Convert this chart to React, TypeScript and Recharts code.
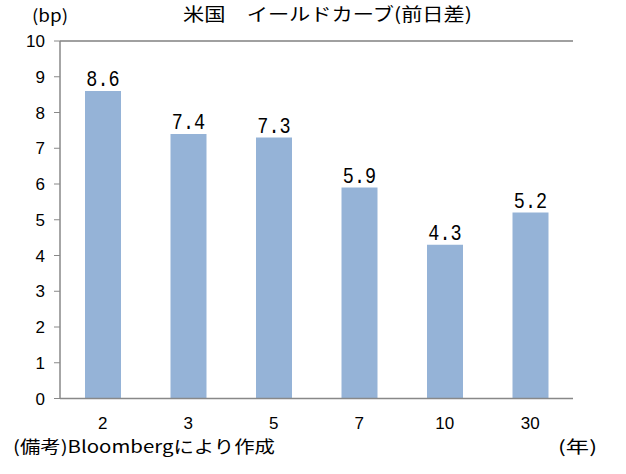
import React from "react";
import { BarChart, Bar, XAxis, YAxis, LabelList, ReferenceLine } from "recharts";

const categories = ["2", "3", "5", "7", "10", "30"];
const values = [8.6, 7.4, 7.3, 5.9, 4.3, 5.2];
const yTicks = [0, 1, 2, 3, 4, 5, 6, 7, 8, 9, 10];
const titleText = "米国　イールドカーブ(前日差)";
const unitText = "(bp)";
const noteText = "(備考)Bloombergにより作成";
const xUnitText = "(年)";

const data = categories.map((c, i) => ({ name: c, value: values[i] }));

const cjk = "'Noto Sans CJK JP', 'Noto Sans', sans-serif";

const BarLabel = (props: any) => {
  const { x, y, width, value } = props;
  const cx = Number(x) + Number(width) / 2;
  const by = Number(y) - 5;
  return (
    <text
      transform={`translate(${cx},${by}) scale(1,1.15)`}
      textAnchor="middle"
      fontSize={18.5}
      fontFamily="'Liberation Mono', monospace"
      fill="#000"
    >
      {Number(value).toFixed(1)}
    </text>
  );
};

export default function App() {
  return (
    <div style={{ position: "absolute", left: 0, top: 0, width: 626, height: 474, background: "#fff" }}>
      <BarChart
        width={626}
        height={474}
        data={data}
        margin={{ top: 41, right: 53, bottom: 45.5, left: 10 }}
        barSize={36}
      >
        <XAxis
          dataKey="name"
          axisLine={{ stroke: "#888888", strokeWidth: 1.5 }}
          tickLine={false}
          tickSize={0}
          tickMargin={18}
          height={30}
          tick={{ fill: "#000", fontSize: 17, fontFamily: "'Liberation Sans', Arial, sans-serif" }}
          interval={0}
        />
        <YAxis
          domain={[0, 10]}
          ticks={yTicks}
          width={50}
          axisLine={{ stroke: "#888888", strokeWidth: 1.5 }}
          tickLine={{ stroke: "#888888" }}
          tickSize={6}
          tickMargin={9}
          tick={{ fill: "#000", fontSize: 17, fontFamily: "'Liberation Sans', Arial, sans-serif" }}
          allowDecimals={false}
        />
        <YAxis
          yAxisId="r"
          orientation="right"
          domain={[0, 10]}
          width={0}
          tick={false}
          tickLine={false}
          axisLine={{ stroke: "#404040", strokeWidth: 1.5 }}
        />
        <ReferenceLine y={10} stroke="#808080" strokeWidth={1.5} />
        <Bar dataKey="value" fill="#95B3D7" isAnimationActive={false}>
          <LabelList dataKey="value" content={BarLabel} />
        </Bar>
      </BarChart>
      <svg
        width={626}
        height={474}
        style={{ position: "absolute", left: 0, top: 0, pointerEvents: "none" }}
      >
        <text x={32} y={22} fontSize={17} fontFamily={cjk} textLength={36} lengthAdjust="spacingAndGlyphs" fill="#000">
          {unitText}
        </text>
        <text x={183} y={21} fontSize={18} fontFamily={cjk} textLength={289} lengthAdjust="spacingAndGlyphs" fill="#000">
          {titleText}
        </text>
        <text x={13} y={453} fontSize={17} fontFamily={cjk} textLength={262} lengthAdjust="spacingAndGlyphs" fill="#000">
          {noteText}
        </text>
        <text x={558} y={453} fontSize={17} fontFamily={cjk} textLength={39} lengthAdjust="spacingAndGlyphs" fill="#000">
          {xUnitText}
        </text>
      </svg>
    </div>
  );
}
